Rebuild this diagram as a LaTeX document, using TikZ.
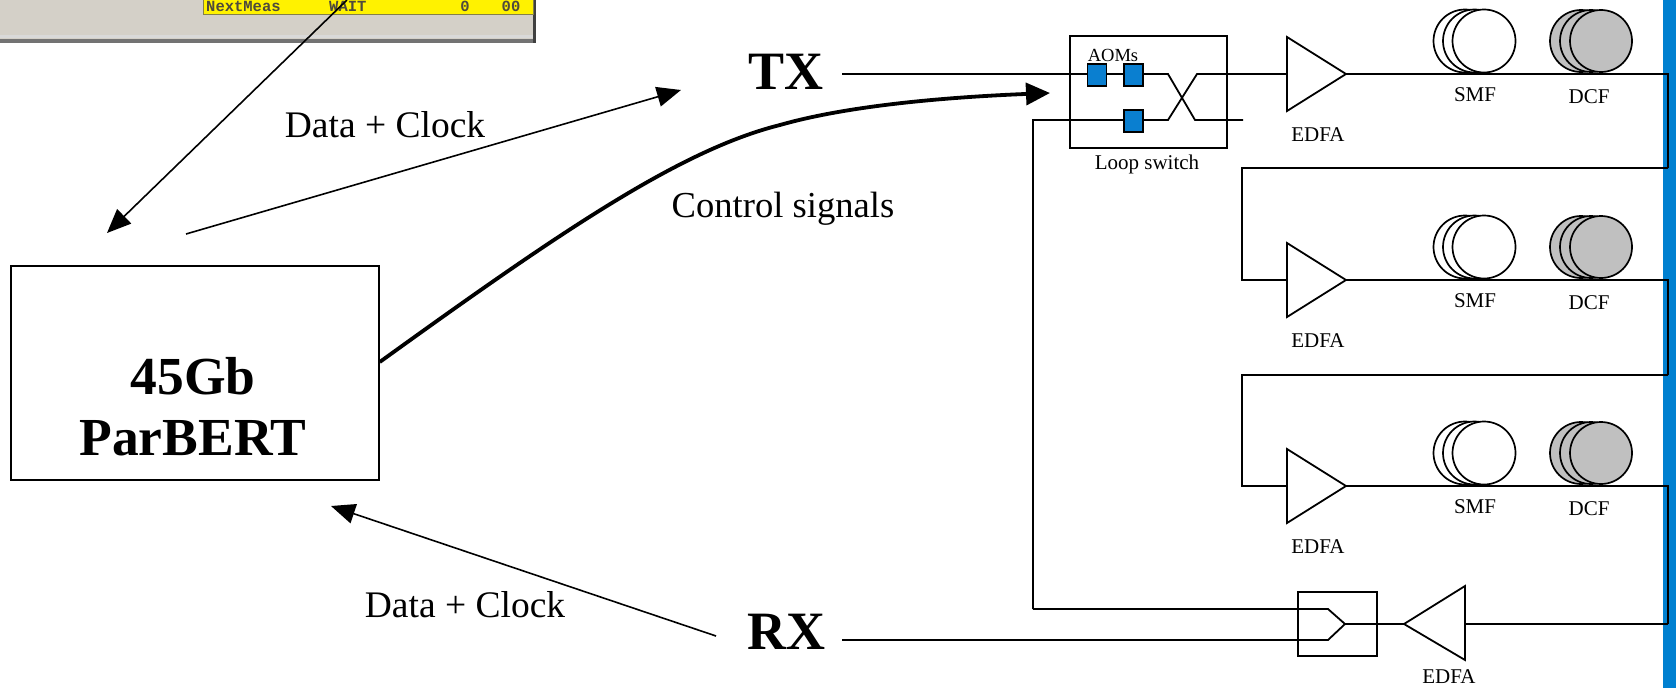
\documentclass[tikz,border=0pt]{standalone}
\usepackage{fontspec}
\setmainfont{Liberation Serif}
\newfontfamily\panelfont{Liberation Mono}
\usetikzlibrary{arrows.meta}
\definecolor{aomblue}{HTML}{0A7FD0}
\definecolor{barblue}{HTML}{0080D0}
\definecolor{coilgray}{HTML}{C0C0C0}
\definecolor{panelgray}{HTML}{D4D0C8}
\tikzset{
  x=1pt,y=-1pt,
  fiber/.style={line width=1.8pt,black},
  thinarrow/.style={line width=1.6pt,-{Triangle[length=24pt,width=20pt]}},
  thickarrow/.style={line width=3.8pt,-{Triangle[length=24pt,width=22pt]}},
  aom/.style={draw=black,fill=aomblue,line width=1.5pt,minimum width=19pt,minimum height=22pt,inner sep=0pt},
  small/.style={font=\fontsize{21}{25}\selectfont,inner sep=0pt},
  medium/.style={font=\fontsize{37.5}{44}\selectfont,inner sep=0pt},
  big/.style={font=\fontsize{54}{60}\selectfont\bfseries,inner sep=0pt},
  paneltext/.style={font=\fontsize{15.5}{16}\selectfont\panelfont\bfseries,inner sep=0pt,text=black!80!yellow},
  coil/.style={draw=black,line width=1.7pt},
}
\begin{document}
\begin{tikzpicture}
\useasboundingbox (0,0) rectangle (1676,688);
% screen capture
\fill[panelgray] (0,0) rectangle (536,40);
\fill[black!15] (0,35) rectangle (533,38);
\fill[black!55] (0,39) rectangle (536,43);
\fill[black!75] (533,0) rectangle (536,43);
\fill[yellow,draw=black!55!yellow,line width=1pt] (203,-2) rectangle (533,14.5);
\node[paneltext,anchor=west] (nm) at (206,6.5) {NextMeas};
\node[paneltext,anchor=west] (wt) at (329,6.5) {WAIT};
\node[paneltext] (z1) at (465,6.5) {0};
\node[paneltext] (z2) at (511,6.5) {00};
% right bar
\fill[barblue] (1663,0) rectangle (1676,688);
% main box
\node[draw=black,line width=1.5pt,minimum width=368pt,minimum height=214pt,inner sep=0pt] (bert) at (195,373) {};
\node[font=\fontsize{53.5}{60}\selectfont\bfseries,inner sep=0pt] (l45) at (193,376) {45Gb};
\node[font=\fontsize{53.5}{60}\selectfont\bfseries,inner sep=0pt] (lpb) at (193,438) {ParBERT};
\node[big] (tx) at (786,72) {TX};
\node[big] (rx) at (786,632) {RX};
\node[medium] (dc1) at (385,125) {Data + Clock};
\node[medium] (dc2) at (465,605) {Data + Clock};
\node[font=\fontsize{36.6}{44}\selectfont,inner sep=0pt] (cs) at (783,209) {Control signals};
% loop switch
\node[draw=black,line width=1.5pt,minimum width=157pt,minimum height=112pt,inner sep=0pt] (loop) at (1148.5,92) {};
\node[font=\fontsize{18.5}{22}\selectfont,inner sep=0pt] (aoml) at (1113,55) {AOMs};
\node[small] (loopl) at (1147,164) {Loop switch};
% named points
\coordinate (txe) at (842,74);
\coordinate (rxe) at (842,640);
\coordinate (xa) at (1168,74);
\coordinate (xb) at (1168,120);
\coordinate (xc) at (1197,74);
\coordinate (xd) at (1195,120);
\coordinate (lowe) at (1243,120);
\coordinate (lows) at (1033,120);
\coordinate (lowb) at (1033,609);
% fibre lines through the loop switch
\draw[fiber] (txe) -- (xa) -- (xd) -- (lowe);
\draw[fiber] (lowb) -- (lows) -- (xb) -- (xc) -- (1287,74);
% AOMs
\node[aom] (aom1) at (1097,75) {};
\node[aom] (aom2) at (1133.5,75) {};
\node[aom] (aom3) at (1133.5,121) {};
% three spans
\foreach \r/\ry/\nexty in {a/74/168,b/280/375,c/486/624}{
  \pgfmathsetmacro{\cy}{\ry-33}
  \foreach \cx in {1465,1474.5,1484}{\draw[coil,fill=white] (\cx,\cy) circle (31.5);}
  \foreach \cx in {1581,1591,1601}{\draw[coil,fill=coilgray] (\cx,\cy) circle (31);}
  \draw[fiber,fill=white,line join=miter] (1287,\ry-37) -- (1346,\ry) -- (1287,\ry+37) -- cycle;
  \draw[fiber] (1346,\ry) -- (1668,\ry) -- (1668,\nexty);
  \node[small] (smf\r) at (1475,\ry+21) {SMF};
  \node[small] (dcf\r) at (1589,\ry+23) {DCF};
  \node[small] (edfa\r) at (1318,\ry+61) {EDFA};
}
% links between spans
\draw[fiber] (1668,168) -- (1242,168) -- (1242,280) -- (1287,280);
\draw[fiber] (1668,375) -- (1242,375) -- (1242,486) -- (1287,486);
% combiner and receiver amp
\node[draw=black,line width=1.5pt,minimum width=79pt,minimum height=64pt,inner sep=0pt] (comb) at (1337.5,624) {};
\coordinate (cp) at (1345,624);
\draw[fiber] (lowb) -- (1328,609) -- (cp) -- (1328,640) -- (rxe);
\draw[fiber] (cp) -- (1404,624);
\draw[fiber,line join=miter] (1465,586) -- (1404,624) -- (1465,660) -- cycle;
\draw[fiber] (1465,624) -- (1668,624);
\node[small] (edfar) at (1449,677) {EDFA};
% signal arrows
\coordinate (scr) at (347,0);
\coordinate (a1e) at (107,233);
\coordinate (a2s) at (186,234);
\coordinate (a2e) at (681,90);
\coordinate (a3s) at (716,636);
\coordinate (a3e) at (331,506);
\coordinate (a4e) at (1050,93);
\draw[thinarrow] (scr) -- (a1e);
\draw[thinarrow] (a2s) -- (a2e);
\draw[thinarrow] (a3s) -- (a3e);
\draw[thickarrow] (bert.east |- 0,362) .. controls (560,232) and (680,150) .. (780,125) .. controls (850,105) and (950,97) .. (a4e);
\end{tikzpicture}
\end{document}
